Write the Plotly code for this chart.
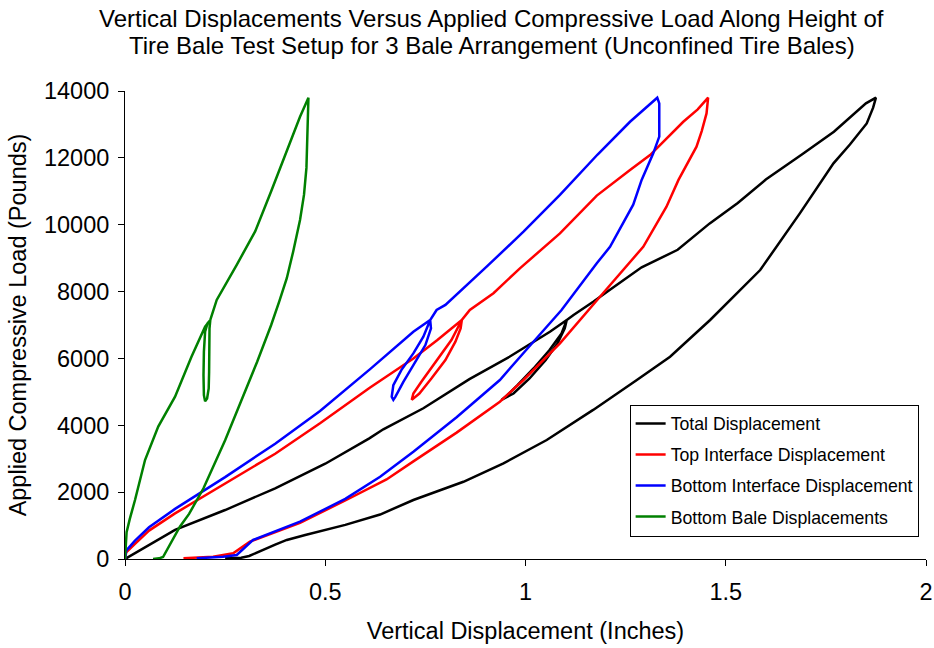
import plotly.graph_objects as go

# ---- data (displacement in inches, load in pounds) ----
total_x = [0, 0.06, 0.125, 0.25, 0.375, 0.5, 0.61, 0.645, 0.745, 0.86, 0.96, 1.061, 1.103,
           1.098, 1.08, 1.05, 1.01, 0.97, 0.94,
           0.95, 0.98, 1.02, 1.06, 1.09, 1.103,
           1.12, 1.17, 1.21, 1.29, 1.38, 1.46, 1.53, 1.60, 1.69, 1.77, 1.85, 1.875,
           1.868, 1.852, 1.81, 1.769, 1.685, 1.586, 1.461, 1.361, 1.278, 1.169, 1.053, 0.945,
           0.845, 0.72, 0.637, 0.55, 0.45, 0.404, 0.375, 0.34, 0.31, 0.29, 0.25]
total_y = [0, 420, 870, 1465, 2115, 2850, 3610, 3880, 4510, 5380, 6050, 6800, 7150,
           6900, 6450, 5950, 5400, 4950, 4760,
           4850, 5200, 5700, 6250, 6750, 7150,
           7300, 7700, 8050, 8725, 9250, 10040, 10650, 11350, 12100, 12780, 13630, 13800,
           13500, 13030, 12400, 11835, 10340, 8645, 7150, 6050, 5355, 4460, 3560, 2860,
           2310, 1765, 1330, 1020, 720, 570, 430, 250, 90, 40, 20]

top_x = [0, 0.003, 0.025, 0.06, 0.125, 0.25, 0.375, 0.487, 0.612, 0.72, 0.78, 0.841,
         0.838, 0.825, 0.80, 0.765, 0.735, 0.716,
         0.72, 0.74, 0.778, 0.815, 0.841,
         0.861, 0.92, 0.986, 1.086, 1.178, 1.261, 1.311, 1.394, 1.43, 1.456,
         1.452, 1.44, 1.427, 1.382, 1.352, 1.294, 1.228, 1.186, 1.086, 0.995, 0.936, 0.828,
         0.72, 0.653, 0.55, 0.437, 0.312, 0.27, 0.22, 0.146]
top_y = [0, 200, 450, 850, 1365, 2250, 3150, 4060, 5130, 6000, 6550, 7150,
         6900, 6500, 5950, 5400, 4950, 4760,
         4950, 5300, 5950, 6550, 7150,
         7450, 7950, 8695, 9740, 10870, 11635, 12085, 13080, 13450, 13800,
         13330, 12800, 12335, 11340, 10540, 9340, 8445, 7845, 6450, 5355, 4705, 3780,
         2920, 2380, 1750, 1085, 520, 170, 70, 20]

bottom_x = [0, 0.003, 0.025, 0.06, 0.125, 0.25, 0.375, 0.487, 0.612, 0.72, 0.762,
            0.764, 0.75, 0.72, 0.695, 0.675, 0.67,
            0.666, 0.67, 0.69, 0.72, 0.745, 0.762,
            0.778, 0.80, 0.903, 0.995, 1.086, 1.18, 1.261, 1.30, 1.329,
            1.334, 1.334, 1.319, 1.29, 1.269, 1.211, 1.178, 1.09, 1.0, 0.936, 0.828,
            0.72, 0.637, 0.55, 0.437, 0.32, 0.279, 0.245, 0.179]
bottom_y = [0, 250, 550, 950, 1500, 2450, 3450, 4430, 5680, 6800, 7150,
            6900, 6400, 5800, 5300, 4850, 4760,
            4850, 5200, 5650, 6150, 6650, 7150,
            7450, 7600, 8745, 9790, 10890, 12100, 13080, 13500, 13800,
            13630, 12635, 12135, 11340, 10600, 9340, 8845, 7450, 6230, 5355, 4240,
            3210, 2460, 1800, 1115, 570, 120, 70, 20]

bale_x = [0, 0.002, 0.004, 0.012, 0.025, 0.05, 0.083, 0.125, 0.166, 0.2, 0.213,
          0.211, 0.211, 0.21, 0.209, 0.205, 0.2,
          0.197, 0.196, 0.197, 0.2, 0.206, 0.213,
          0.229, 0.279, 0.325, 0.365, 0.404, 0.437, 0.458,
          0.457, 0.456, 0.453, 0.447, 0.437, 0.42, 0.404, 0.385, 0.365, 0.33, 0.291,
          0.25, 0.196, 0.16, 0.137, 0.12, 0.105, 0.095, 0.085, 0.07]
bale_y = [0, 500, 800, 1200, 1765, 2960, 3960, 4855, 6050, 6950, 7150,
          6900, 6300, 5600, 5100, 4800, 4720,
          4900, 5500, 6200, 6800, 7050, 7150,
          7750, 8800, 9800, 11000, 12235, 13230, 13800,
          13300, 12500, 11700, 10900, 10140, 9200, 8400, 7700, 7000, 5900, 4760,
          3550, 2115, 1350, 965, 600, 250, 60, 20, 0]

series_names = ["Total Displacement", "Top Interface Displacement",
                "Bottom Interface Displacement", "Bottom Bale Displacements"]
series_colors = ["#000000", "#FF0000", "#0000FF", "#008000"]

x_ticks = [0, 0.5, 1, 1.5, 2]
x_tick_labels = ["0", "0.5", "1", "1.5", "2"]
y_ticks = [0, 2000, 4000, 6000, 8000, 10000, 12000, 14000]
y_tick_labels = ["0", "2000", "4000", "6000", "8000", "10000", "12000", "14000"]

FONT = "Liberation Sans, Arial, sans-serif"
TXT = 23.5

fig = go.Figure()
for name, color, xs, ys in zip(series_names, series_colors,
                               [total_x, top_x, bottom_x, bale_x],
                               [total_y, top_y, bottom_y, bale_y]):
    fig.add_trace(go.Scatter(x=xs, y=ys, mode="lines", name=name, legendgroup=name,
                             line=dict(color=color, width=2.5)))

fig.update_layout(
    width=934, height=648,
    paper_bgcolor="white", plot_bgcolor="white",
    margin=dict(l=125, r=8, t=91, b=89, autoexpand=False),
    font=dict(family=FONT, size=TXT, color="black"),
    showlegend=True,
    legend=dict(x=0.63, y=0.33, xanchor="left", yanchor="top",
                bgcolor="white", bordercolor="black", borderwidth=1,
                font=dict(family=FONT, size=17.7, color="black"),
                entrywidth=250, entrywidthmode="pixels",
                traceorder="grouped", tracegroupgap=5),
    annotations=[
        dict(text="Vertical Displacements Versus Applied Compressive Load Along Height of",
             xref="paper", yref="paper", x=0.458, y=1.0, yshift=73, showarrow=False,
             xanchor="center", yanchor="middle", font=dict(family=FONT, size=24)),
        dict(text="Tire Bale Test Setup for 3 Bale Arrangement (Unconfined Tire Bales)",
             xref="paper", yref="paper", x=0.458, y=1.0, yshift=46, showarrow=False,
             xanchor="center", yanchor="middle", font=dict(family=FONT, size=24)),
    ],
)
fig.update_xaxes(range=[0, 2], tickmode="array", tickvals=x_ticks, ticktext=x_tick_labels,
                 automargin=False, ticklabelstandoff=6,
                 showgrid=False, zeroline=False, showline=True, linecolor="black",
                 linewidth=1, ticks="outside", ticklen=6, tickcolor="black",
                 title=dict(text="Vertical Displacement (Inches)", standoff=18,
                            font=dict(family=FONT, size=TXT)),
                 tickfont=dict(family=FONT, size=TXT))
fig.update_yaxes(range=[0, 14000], tickmode="array", tickvals=y_ticks, ticktext=y_tick_labels,
                 automargin=False, ticklabelstandoff=4,
                 showgrid=False, zeroline=False, showline=True, linecolor="black",
                 linewidth=1, ticks="outside", ticklen=6, tickcolor="black",
                 title=dict(text="Applied Compressive Load (Pounds)", standoff=10,
                            font=dict(family=FONT, size=TXT)),
                 tickfont=dict(family=FONT, size=TXT))

# remove the default 8px page margin so the figure fills the window exactly
fig.write_html("out.html", config={"displayModeBar": False},
               post_script="document.body.style.margin='0';document.body.style.overflow='hidden';")
